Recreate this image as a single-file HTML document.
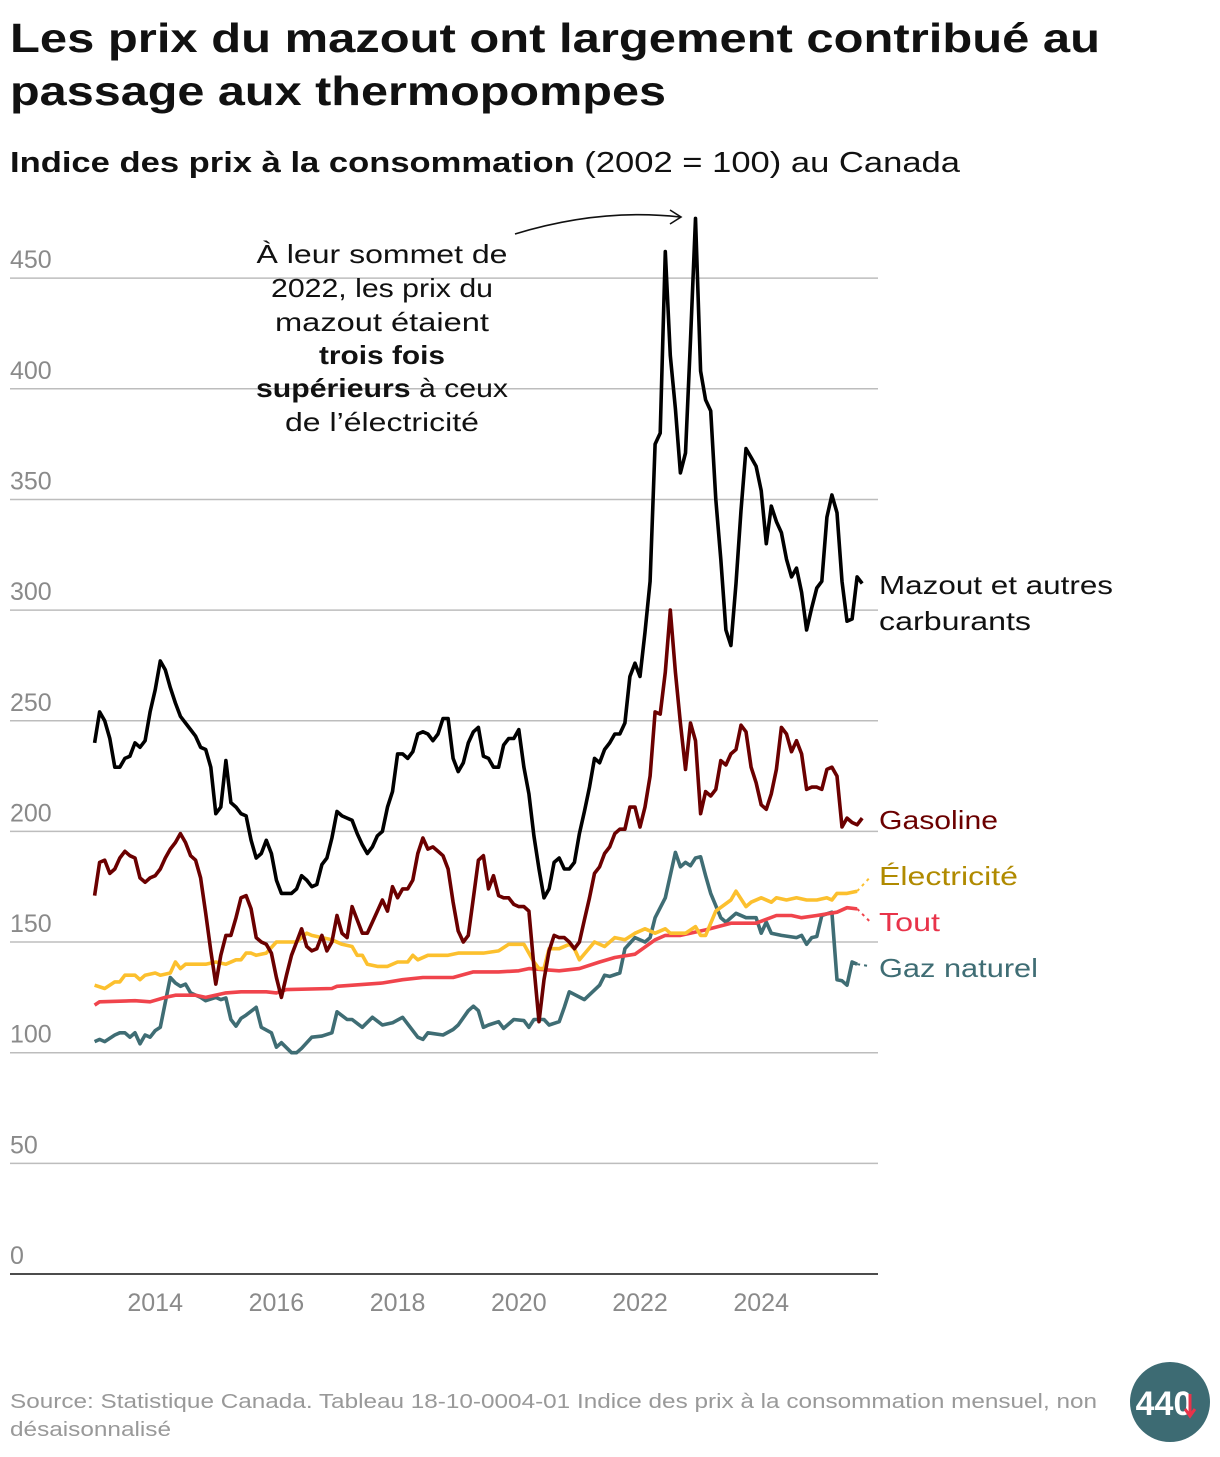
<!DOCTYPE html>
<html><head><meta charset="utf-8"><style>
body{margin:0;background:#fff;width:1220px;height:1452px;overflow:hidden;font-family:"Liberation Sans",sans-serif}
</style></head><body>
<svg id="chart" width="1220" height="1452" xmlns="http://www.w3.org/2000/svg" font-family="Liberation Sans, sans-serif">
<text x="10" y="52" font-size="41" font-weight="bold" fill="#111" textLength="1090" lengthAdjust="spacingAndGlyphs">Les prix du mazout ont largement contribué au</text>
<text x="10" y="105" font-size="41" font-weight="bold" fill="#111" textLength="656" lengthAdjust="spacingAndGlyphs">passage aux thermopompes</text>
<text x="10" y="172" font-size="29" fill="#111" textLength="950" lengthAdjust="spacingAndGlyphs"><tspan font-weight="bold">Indice des prix à la consommation</tspan> (2002 = 100) au Canada</text>
<g id="grid"></g>
<g id="series"></g>
<g font-size="26" fill="#111" text-anchor="middle" lengthAdjust="spacingAndGlyphs">
<text x="382" y="263" textLength="251" lengthAdjust="spacingAndGlyphs">À leur sommet de</text>
<text x="382" y="297" textLength="222" lengthAdjust="spacingAndGlyphs">2022, les prix du</text>
<text x="382" y="331" textLength="214" lengthAdjust="spacingAndGlyphs">mazout étaient</text>
<text x="382" y="364" font-weight="bold" textLength="126" lengthAdjust="spacingAndGlyphs">trois fois</text>
<text x="382" y="397" textLength="252" lengthAdjust="spacingAndGlyphs"><tspan font-weight="bold">supérieurs</tspan> à ceux</text>
<text x="382" y="431" textLength="194" lengthAdjust="spacingAndGlyphs">de l’électricité</text>
</g>
<path d="M515,234 Q600,208 680,217" fill="none" stroke="#111" stroke-width="1.6"/>
<path d="M670,210 L681,217 L670,224" fill="none" stroke="#111" stroke-width="1.6"/>
<g font-size="26">
<text x="879" y="594" fill="#111" textLength="234" lengthAdjust="spacingAndGlyphs">Mazout et autres</text>
<text x="879" y="630" fill="#111" textLength="152" lengthAdjust="spacingAndGlyphs">carburants</text>
<text x="879" y="829" fill="#6b0000" textLength="119" lengthAdjust="spacingAndGlyphs">Gasoline</text>
<text x="879" y="885" fill="#b08a00" textLength="139" lengthAdjust="spacingAndGlyphs">Électricité</text>
<text x="879" y="931" fill="#e8334a" textLength="61" lengthAdjust="spacingAndGlyphs">Tout</text>
<text x="879" y="977" fill="#3f6d74" textLength="159" lengthAdjust="spacingAndGlyphs">Gaz naturel</text>
</g>
<text x="10" y="1408" font-size="20" fill="#999" textLength="1087" lengthAdjust="spacingAndGlyphs">Source: Statistique Canada. Tableau 18-10-0004-01 Indice des prix à la consommation mensuel, non</text>
<text x="10" y="1436" font-size="20" fill="#999" textLength="161" lengthAdjust="spacingAndGlyphs">désaisonnalisé</text>
<g>
<circle cx="1170" cy="1402" r="40" fill="#3d6b73"/>
<text x="1164" y="1415" font-size="34" font-weight="bold" fill="#fff" text-anchor="middle">440</text>
<path d="M1190,1394 L1190,1414 M1185,1409 L1190,1416 L1195,1409" stroke="#e8334a" stroke-width="3" fill="none"/>
</g>
</svg>
<script>
const yTicks=[0,50,100,150,200,250,300,350,400,450];
const xTickYears=[2014,2016,2018,2020,2022,2024];
const mazout=[240,254,250,242,229,229,233,234,240,238,241,254,264,277,273,265,258,252,249,246,243,238,237,229,208,211,232,213,211,208,207,196,188,190,196,190,178,172,172,172,174,180,178,175,176,185,188,197,209,207,206,205,199,194,190,193,198,200,211,218,235,235,233,236,244,245,244,241,244,251,251,233,227,231,240,245,247,234,233,229,229,239,242,242,246,229,217,198,183,170,174,186,188,183,183,186,199,209,220,233,231,237,240,244,244,249,270,276,270,290,313,375,380,462,415,391,362,371,422,477,408,395,390,350,323,291,284,312,345,373,369,365,354,330,347,340,335,323,315,319,308,291,301,310,313,342,352,344,313,295,296,315,312];
const gasoline=[171,186,187,181,183,188,191,189,188,179,177,179,180,183,188,192,195,199,195,189,187,179,163,146,131,144,153,153,161,170,171,165,152,150,149,145,134,125,135,144,150,156,148,146,147,153,146,150,162,154,152,166,160,154,154,159,164,169,164,175,170,174,174,178,190,197,192,193,191,189,183,168,155,150,153,170,187,189,174,180,171,170,170,167,166,166,164,139,114,133,146,153,152,152,150,147,150,160,170,181,184,190,193,199,201,201,211,211,202,211,225,254,253,272,300,272,249,228,249,241,208,218,216,219,232,230,235,237,248,245,229,222,212,210,217,228,247,244,236,241,235,219,220,220,219,228,229,225,202,206,204,203,206];
const elecMonths=[0,2,4,5,6,8,9,10,12,13,15,16,17,18,20,22,24,26,28,29,30,31,32,34,36,38,40,42,43,45,47,49,51,52,53,54,56,58,60,62,63,64,66,70,72,74,77,80,82,85,87,88,89,90,92,94,95,96,99,101,103,105,107,109,111,113,114,117,119,120,121,123,126,127,129,130,132,134,135,137,139,141,143,145,146,147,149,151];
const elecValues=[130.5,129,132,132,135,135,133,135,136,135,136,141,138,140,140,140,141,140,142,142,145,145,144,145,150,150,150,154,153,152,151,149,148,144,144,140,139,139,141,141,144,142,144,144,145,145,145,146,149,149,141,138,138,147,147,149,147,142,150,148,152,151,154,156,154,156,154,154,157,153,153,164,169,173,166,168,170,168,170,169,170,169,169,170,169,172,172,173];
const toutMonths=[0,1,8,11,14,16,20,22,26,29,34,36,38,47,48,57,61,65,67,71,75,80,84,86,92,96,100,103,107,111,113,116,121,126,131,135,138,140,143,147,149,151];
const toutValues=[121.5,123,123.5,123,125,126,126,125,127,127.5,127.5,127,128.5,129,130,131.5,133,134,134,134,136.5,136.5,137,138,137,138,141,143,144.5,151,153,153,155.5,158.5,158.5,162,162,161,162,163.5,165.5,165];
const gazMonths=[0,1,2,4,5,6,7,8,9,10,11,12,13,15,16,17,18,19,21,22,24,25,26,27,28,29,30,32,33,35,36,37,39,40,41,43,45,47,48,50,51,53,55,57,59,61,64,65,66,69,71,72,74,75,76,77,78,80,81,83,85,86,87,89,90,92,93,94,97,100,101,102,104,105,107,109,110,111,113,115,116,117,118,119,120,121,122,124,125,127,129,131,132,133,134,136,139,140,141,142,143,144,146,147,148,149,150,151];
const gazValues=[105,106,105,108,109,109,107,109,104,108,107,110,111.5,134,131.5,130,131,127,125,123.5,125,124,124.7,115,112,115.5,117,120.5,111.5,109,102.5,104.5,100,100,102,107,107.5,109,118.5,115,115,111.5,116,112.5,113.5,116,107,106,109,108,110.5,112.5,119,121,119,111.5,112.5,114,111,115,114.5,111.5,115,115,112.5,114,120.5,127.5,124,130.5,135,134.5,136,147,152,150,152,161,170,190.5,184,186,184.5,188,188.5,180,172,161,159,163,161,161,154,159,154,153,152,153,149,152,152.5,162,163.5,133,132.5,130.5,141,140];

const X0=94.6, PX_PER_MONTH=60.6/12, Y0=1274, PX_PER_UNIT=221.3/100;
const xScale=m=>X0+m*PX_PER_MONTH;
const xYear=y=>X0+(y-2013)*12*PX_PER_MONTH;
const yScale=v=>Y0-v*PX_PER_UNIT;
const NS="http://www.w3.org/2000/svg";
const grid=document.getElementById('grid'), ser=document.getElementById('series');
function mk(tag,attrs,parent){const e=document.createElementNS(NS,tag);for(const k in attrs)e.setAttribute(k,attrs[k]);parent.appendChild(e);return e;}
yTicks.forEach(v=>{
  if(v>0){const l=mk('line',{x1:10,x2:878,y1:yScale(v),y2:yScale(v),stroke:'#bdbdbd','stroke-width':1.5},grid);
  
  }
  const t=mk('text',{x:10,y:yScale(v)-10,'font-size':25,fill:'#8a8a8a'},grid);t.textContent=v;
  
  
});
const base=mk('line',{x1:10,x2:878,y1:Y0,y2:Y0,stroke:'#111','stroke-width':1.5},grid);


xTickYears.forEach(y=>{const t=mk('text',{x:xYear(y),y:1311,'font-size':25,fill:'#8a8a8a','text-anchor':'middle'},grid);t.textContent=y;
  
  });
function line(months,vals,color,name,ext){
  const d=vals.map((v,i)=>(i?'L':'M')+xScale(months?months[i]:i).toFixed(1)+','+yScale(v).toFixed(1)).join(' ');
  const p=mk('path',{d:d,fill:'none',stroke:color,'stroke-width':3.6,'stroke-linejoin':'round'},ser);
  
  
  if(ext){const n=vals.length-1;const lx=xScale(months?months[n]:n),ly=yScale(vals[n]);
    const q=mk('path',{d:`M${lx},${ly} L${lx+13},${ly+ext}`,fill:'none',stroke:color,'stroke-width':2,'stroke-dasharray':'3,4'},ser);
    
    }
}
line(gazMonths,gazValues,'#3f6d74','gaz-naturel-line',2);
line(toutMonths,toutValues,'#f0444c','tout-line',13);
line(elecMonths,elecValues,'#fcc02e','electricite-line',-14);
line(null,gasoline,'#6b0000','gasoline-line',0);
line(null,mazout,'#000000','mazout-line',0);
</script>
</body></html>
